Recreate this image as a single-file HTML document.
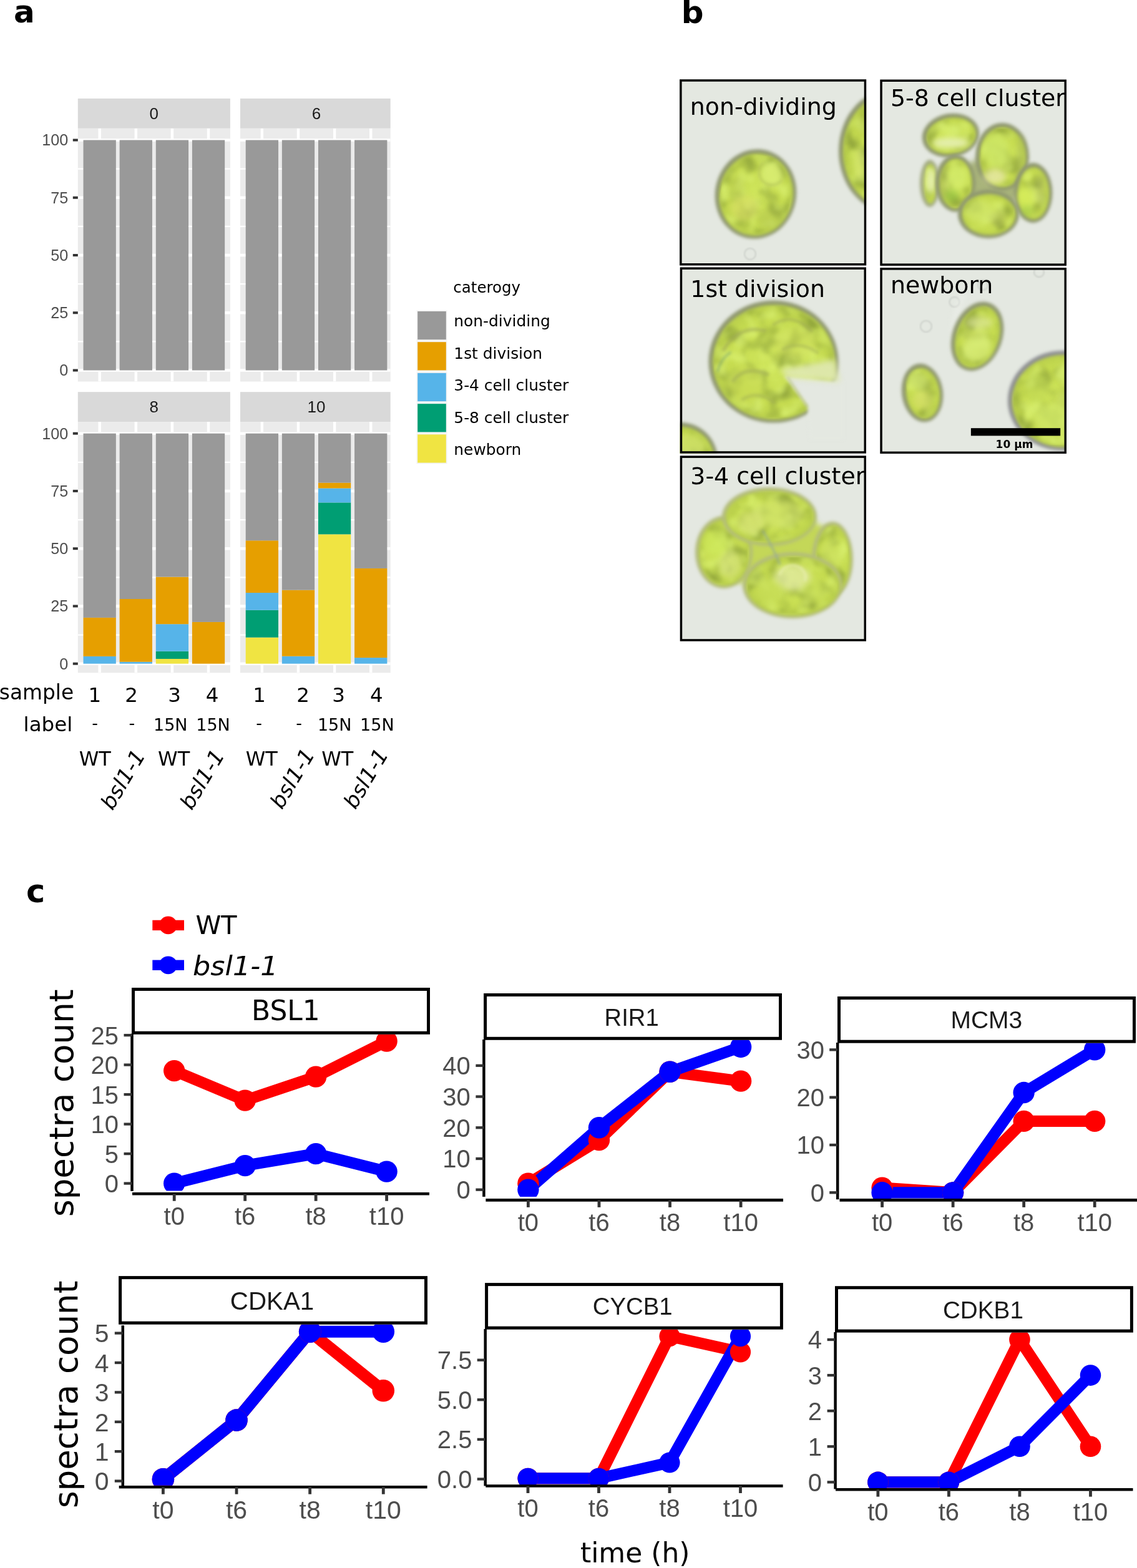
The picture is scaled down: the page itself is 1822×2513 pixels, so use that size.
<!DOCTYPE html><html><head><meta charset="utf-8"><style>html,body{margin:0;padding:0;background:#fff;width:1822px;height:2513px;overflow:hidden}svg{display:block}</style></head><body>
<svg xmlns="http://www.w3.org/2000/svg" width="1822" height="2513" viewBox="0 0 1822 2513">
<rect width="1822" height="2513" fill="#fff"/>
<text x="21.9" y="36.4" style="font-family:'DejaVu Sans',Verdana,sans-serif;font-weight:bold;font-size:50px" fill="#000">a</text>
<rect x="124.8" y="157.9" width="244.1" height="47.9" fill="#D9D9D9" />
<text x="246.85" y="190.8" style="font-family:'Liberation Sans',Arial,Helvetica,sans-serif;font-size:26px" fill="#1A1A1A" text-anchor="middle" >0</text>
<rect x="124.8" y="205.8" width="244.1" height="405.7" fill="#EBEBEB" />
<g clip-path="url(#clip0)">
<line x1="124.8" y1="547.38" x2="368.9" y2="547.38" stroke="#FFFFFF" stroke-width="2.4" />
<line x1="124.8" y1="455.12" x2="368.9" y2="455.12" stroke="#FFFFFF" stroke-width="2.4" />
<line x1="124.8" y1="362.88" x2="368.9" y2="362.88" stroke="#FFFFFF" stroke-width="2.4" />
<line x1="124.8" y1="270.62" x2="368.9" y2="270.62" stroke="#FFFFFF" stroke-width="2.4" />
<line x1="124.8" y1="593.5" x2="368.9" y2="593.5" stroke="#FFFFFF" stroke-width="4.4" />
<line x1="124.8" y1="501.25" x2="368.9" y2="501.25" stroke="#FFFFFF" stroke-width="4.4" />
<line x1="124.8" y1="409" x2="368.9" y2="409" stroke="#FFFFFF" stroke-width="4.4" />
<line x1="124.8" y1="316.75" x2="368.9" y2="316.75" stroke="#FFFFFF" stroke-width="4.4" />
<line x1="124.8" y1="224.5" x2="368.9" y2="224.5" stroke="#FFFFFF" stroke-width="4.4" />
<line x1="159.67" y1="205.8" x2="159.67" y2="611.5" stroke="#FFFFFF" stroke-width="4.4" />
<line x1="217.79" y1="205.8" x2="217.79" y2="611.5" stroke="#FFFFFF" stroke-width="4.4" />
<line x1="275.91" y1="205.8" x2="275.91" y2="611.5" stroke="#FFFFFF" stroke-width="4.4" />
<line x1="334.03" y1="205.8" x2="334.03" y2="611.5" stroke="#FFFFFF" stroke-width="4.4" />
<rect x="133.52" y="224.5" width="52.31" height="369" fill="#999999" />
<rect x="191.64" y="224.5" width="52.31" height="369" fill="#999999" />
<rect x="249.76" y="224.5" width="52.31" height="369" fill="#999999" />
<rect x="307.88" y="224.5" width="52.31" height="369" fill="#999999" />
</g>
<clipPath id="clip0"><rect x="124.8" y="205.8" width="244.1" height="405.7"/></clipPath>
<rect x="385" y="157.9" width="240.7" height="47.9" fill="#D9D9D9" />
<text x="507.05" y="190.8" style="font-family:'Liberation Sans',Arial,Helvetica,sans-serif;font-size:26px" fill="#1A1A1A" text-anchor="middle" >6</text>
<rect x="385" y="205.8" width="240.7" height="405.7" fill="#EBEBEB" />
<g clip-path="url(#clip6)">
<line x1="385" y1="547.38" x2="625.7" y2="547.38" stroke="#FFFFFF" stroke-width="2.4" />
<line x1="385" y1="455.12" x2="625.7" y2="455.12" stroke="#FFFFFF" stroke-width="2.4" />
<line x1="385" y1="362.88" x2="625.7" y2="362.88" stroke="#FFFFFF" stroke-width="2.4" />
<line x1="385" y1="270.62" x2="625.7" y2="270.62" stroke="#FFFFFF" stroke-width="2.4" />
<line x1="385" y1="593.5" x2="625.7" y2="593.5" stroke="#FFFFFF" stroke-width="4.4" />
<line x1="385" y1="501.25" x2="625.7" y2="501.25" stroke="#FFFFFF" stroke-width="4.4" />
<line x1="385" y1="409" x2="625.7" y2="409" stroke="#FFFFFF" stroke-width="4.4" />
<line x1="385" y1="316.75" x2="625.7" y2="316.75" stroke="#FFFFFF" stroke-width="4.4" />
<line x1="385" y1="224.5" x2="625.7" y2="224.5" stroke="#FFFFFF" stroke-width="4.4" />
<line x1="419.87" y1="205.8" x2="419.87" y2="611.5" stroke="#FFFFFF" stroke-width="4.4" />
<line x1="477.99" y1="205.8" x2="477.99" y2="611.5" stroke="#FFFFFF" stroke-width="4.4" />
<line x1="536.11" y1="205.8" x2="536.11" y2="611.5" stroke="#FFFFFF" stroke-width="4.4" />
<line x1="594.23" y1="205.8" x2="594.23" y2="611.5" stroke="#FFFFFF" stroke-width="4.4" />
<rect x="393.72" y="224.5" width="52.31" height="369" fill="#999999" />
<rect x="451.84" y="224.5" width="52.31" height="369" fill="#999999" />
<rect x="509.96" y="224.5" width="52.31" height="369" fill="#999999" />
<rect x="568.08" y="224.5" width="52.31" height="369" fill="#999999" />
</g>
<clipPath id="clip6"><rect x="385" y="205.8" width="240.7" height="405.7"/></clipPath>
<rect x="124.8" y="628.2" width="244.1" height="47.9" fill="#D9D9D9" />
<text x="246.85" y="661.1" style="font-family:'Liberation Sans',Arial,Helvetica,sans-serif;font-size:26px" fill="#1A1A1A" text-anchor="middle" >8</text>
<rect x="124.8" y="676.1" width="244.1" height="402.2" fill="#EBEBEB" />
<g clip-path="url(#clip8)">
<line x1="124.8" y1="1017.58" x2="368.9" y2="1017.58" stroke="#FFFFFF" stroke-width="2.4" />
<line x1="124.8" y1="925.33" x2="368.9" y2="925.33" stroke="#FFFFFF" stroke-width="2.4" />
<line x1="124.8" y1="833.08" x2="368.9" y2="833.08" stroke="#FFFFFF" stroke-width="2.4" />
<line x1="124.8" y1="740.83" x2="368.9" y2="740.83" stroke="#FFFFFF" stroke-width="2.4" />
<line x1="124.8" y1="1063.7" x2="368.9" y2="1063.7" stroke="#FFFFFF" stroke-width="4.4" />
<line x1="124.8" y1="971.45" x2="368.9" y2="971.45" stroke="#FFFFFF" stroke-width="4.4" />
<line x1="124.8" y1="879.2" x2="368.9" y2="879.2" stroke="#FFFFFF" stroke-width="4.4" />
<line x1="124.8" y1="786.95" x2="368.9" y2="786.95" stroke="#FFFFFF" stroke-width="4.4" />
<line x1="124.8" y1="694.7" x2="368.9" y2="694.7" stroke="#FFFFFF" stroke-width="4.4" />
<line x1="159.67" y1="676.1" x2="159.67" y2="1078.3" stroke="#FFFFFF" stroke-width="4.4" />
<line x1="217.79" y1="676.1" x2="217.79" y2="1078.3" stroke="#FFFFFF" stroke-width="4.4" />
<line x1="275.91" y1="676.1" x2="275.91" y2="1078.3" stroke="#FFFFFF" stroke-width="4.4" />
<line x1="334.03" y1="676.1" x2="334.03" y2="1078.3" stroke="#FFFFFF" stroke-width="4.4" />
<rect x="133.52" y="1051.89" width="52.31" height="11.81" fill="#56B4E9" />
<rect x="133.52" y="989.9" width="52.31" height="61.99" fill="#E69F00" />
<rect x="133.52" y="694.7" width="52.31" height="295.2" fill="#999999" />
<rect x="191.64" y="1060.75" width="52.31" height="2.95" fill="#56B4E9" />
<rect x="191.64" y="960.01" width="52.31" height="100.74" fill="#E69F00" />
<rect x="191.64" y="694.7" width="52.31" height="265.31" fill="#999999" />
<rect x="249.76" y="1055.95" width="52.31" height="7.75" fill="#F0E442" />
<rect x="249.76" y="1043.77" width="52.31" height="12.18" fill="#009E73" />
<rect x="249.76" y="1000.23" width="52.31" height="43.54" fill="#56B4E9" />
<rect x="249.76" y="924.59" width="52.31" height="75.65" fill="#E69F00" />
<rect x="249.76" y="694.7" width="52.31" height="229.89" fill="#999999" />
<rect x="307.88" y="996.91" width="52.31" height="66.79" fill="#E69F00" />
<rect x="307.88" y="694.7" width="52.31" height="302.21" fill="#999999" />
</g>
<clipPath id="clip8"><rect x="124.8" y="676.1" width="244.1" height="402.2"/></clipPath>
<rect x="385" y="628.2" width="240.7" height="47.9" fill="#D9D9D9" />
<text x="507.05" y="661.1" style="font-family:'Liberation Sans',Arial,Helvetica,sans-serif;font-size:26px" fill="#1A1A1A" text-anchor="middle" >10</text>
<rect x="385" y="676.1" width="240.7" height="402.2" fill="#EBEBEB" />
<g clip-path="url(#clip10)">
<line x1="385" y1="1017.58" x2="625.7" y2="1017.58" stroke="#FFFFFF" stroke-width="2.4" />
<line x1="385" y1="925.33" x2="625.7" y2="925.33" stroke="#FFFFFF" stroke-width="2.4" />
<line x1="385" y1="833.08" x2="625.7" y2="833.08" stroke="#FFFFFF" stroke-width="2.4" />
<line x1="385" y1="740.83" x2="625.7" y2="740.83" stroke="#FFFFFF" stroke-width="2.4" />
<line x1="385" y1="1063.7" x2="625.7" y2="1063.7" stroke="#FFFFFF" stroke-width="4.4" />
<line x1="385" y1="971.45" x2="625.7" y2="971.45" stroke="#FFFFFF" stroke-width="4.4" />
<line x1="385" y1="879.2" x2="625.7" y2="879.2" stroke="#FFFFFF" stroke-width="4.4" />
<line x1="385" y1="786.95" x2="625.7" y2="786.95" stroke="#FFFFFF" stroke-width="4.4" />
<line x1="385" y1="694.7" x2="625.7" y2="694.7" stroke="#FFFFFF" stroke-width="4.4" />
<line x1="419.87" y1="676.1" x2="419.87" y2="1078.3" stroke="#FFFFFF" stroke-width="4.4" />
<line x1="477.99" y1="676.1" x2="477.99" y2="1078.3" stroke="#FFFFFF" stroke-width="4.4" />
<line x1="536.11" y1="676.1" x2="536.11" y2="1078.3" stroke="#FFFFFF" stroke-width="4.4" />
<line x1="594.23" y1="676.1" x2="594.23" y2="1078.3" stroke="#FFFFFF" stroke-width="4.4" />
<rect x="393.72" y="1021.63" width="52.31" height="42.07" fill="#F0E442" />
<rect x="393.72" y="977.72" width="52.31" height="43.91" fill="#009E73" />
<rect x="393.72" y="950.05" width="52.31" height="27.68" fill="#56B4E9" />
<rect x="393.72" y="866.29" width="52.31" height="83.76" fill="#E69F00" />
<rect x="393.72" y="694.7" width="52.31" height="171.59" fill="#999999" />
<rect x="451.84" y="1051.71" width="52.31" height="11.99" fill="#56B4E9" />
<rect x="451.84" y="945.62" width="52.31" height="106.09" fill="#E69F00" />
<rect x="451.84" y="694.7" width="52.31" height="250.92" fill="#999999" />
<rect x="509.96" y="856.32" width="52.31" height="207.38" fill="#F0E442" />
<rect x="509.96" y="805.4" width="52.31" height="50.92" fill="#009E73" />
<rect x="509.96" y="782.52" width="52.31" height="22.88" fill="#56B4E9" />
<rect x="509.96" y="773.67" width="52.31" height="8.86" fill="#E69F00" />
<rect x="509.96" y="694.7" width="52.31" height="78.97" fill="#999999" />
<rect x="568.08" y="1054.11" width="52.31" height="9.59" fill="#56B4E9" />
<rect x="568.08" y="910.93" width="52.31" height="143.17" fill="#E69F00" />
<rect x="568.08" y="694.7" width="52.31" height="216.23" fill="#999999" />
</g>
<clipPath id="clip10"><rect x="385" y="676.1" width="240.7" height="402.2"/></clipPath>
<line x1="116.8" y1="593.5" x2="124.8" y2="593.5" stroke="#333333" stroke-width="4" />
<text x="109.2" y="602.4" style="font-family:'Liberation Sans',Arial,Helvetica,sans-serif;font-size:25.2px" fill="#4D4D4D" text-anchor="end" >0</text>
<line x1="116.8" y1="501.25" x2="124.8" y2="501.25" stroke="#333333" stroke-width="4" />
<text x="109.2" y="510.15" style="font-family:'Liberation Sans',Arial,Helvetica,sans-serif;font-size:25.2px" fill="#4D4D4D" text-anchor="end" >25</text>
<line x1="116.8" y1="409" x2="124.8" y2="409" stroke="#333333" stroke-width="4" />
<text x="109.2" y="417.9" style="font-family:'Liberation Sans',Arial,Helvetica,sans-serif;font-size:25.2px" fill="#4D4D4D" text-anchor="end" >50</text>
<line x1="116.8" y1="316.75" x2="124.8" y2="316.75" stroke="#333333" stroke-width="4" />
<text x="109.2" y="325.65" style="font-family:'Liberation Sans',Arial,Helvetica,sans-serif;font-size:25.2px" fill="#4D4D4D" text-anchor="end" >75</text>
<line x1="116.8" y1="224.5" x2="124.8" y2="224.5" stroke="#333333" stroke-width="4" />
<text x="109.2" y="233.4" style="font-family:'Liberation Sans',Arial,Helvetica,sans-serif;font-size:25.2px" fill="#4D4D4D" text-anchor="end" >100</text>
<line x1="116.8" y1="1063.7" x2="124.8" y2="1063.7" stroke="#333333" stroke-width="4" />
<text x="109.2" y="1072.6" style="font-family:'Liberation Sans',Arial,Helvetica,sans-serif;font-size:25.2px" fill="#4D4D4D" text-anchor="end" >0</text>
<line x1="116.8" y1="971.45" x2="124.8" y2="971.45" stroke="#333333" stroke-width="4" />
<text x="109.2" y="980.35" style="font-family:'Liberation Sans',Arial,Helvetica,sans-serif;font-size:25.2px" fill="#4D4D4D" text-anchor="end" >25</text>
<line x1="116.8" y1="879.2" x2="124.8" y2="879.2" stroke="#333333" stroke-width="4" />
<text x="109.2" y="888.1" style="font-family:'Liberation Sans',Arial,Helvetica,sans-serif;font-size:25.2px" fill="#4D4D4D" text-anchor="end" >50</text>
<line x1="116.8" y1="786.95" x2="124.8" y2="786.95" stroke="#333333" stroke-width="4" />
<text x="109.2" y="795.85" style="font-family:'Liberation Sans',Arial,Helvetica,sans-serif;font-size:25.2px" fill="#4D4D4D" text-anchor="end" >75</text>
<line x1="116.8" y1="694.7" x2="124.8" y2="694.7" stroke="#333333" stroke-width="4" />
<text x="109.2" y="703.6" style="font-family:'Liberation Sans',Arial,Helvetica,sans-serif;font-size:25.2px" fill="#4D4D4D" text-anchor="end" >100</text>
<text x="726.3" y="469.2" style="font-family:'DejaVu Sans',Verdana,sans-serif;font-size:24.5px" fill="#000" text-anchor="start" >caterogy</text>
<rect x="667.5" y="497.3" width="49" height="48.6" fill="#F2F2F2" />
<rect x="669.2" y="499" width="45.6" height="45.2" fill="#999999" />
<text x="727.3" y="523.4" style="font-family:'DejaVu Sans',Verdana,sans-serif;font-size:24.9px" fill="#000" text-anchor="start" >non-dividing</text>
<rect x="667.5" y="546.5" width="49" height="48.6" fill="#F2F2F2" />
<rect x="669.2" y="548.2" width="45.6" height="45.2" fill="#E69F00" />
<text x="727.3" y="574.85" style="font-family:'DejaVu Sans',Verdana,sans-serif;font-size:24.9px" fill="#000" text-anchor="start" >1st division</text>
<rect x="667.5" y="596.2" width="49" height="48.6" fill="#F2F2F2" />
<rect x="669.2" y="597.9" width="45.6" height="45.2" fill="#56B4E9" />
<text x="727.3" y="626.3" style="font-family:'DejaVu Sans',Verdana,sans-serif;font-size:24.9px" fill="#000" text-anchor="start" >3-4 cell cluster</text>
<rect x="667.5" y="645.5" width="49" height="48.6" fill="#F2F2F2" />
<rect x="669.2" y="647.2" width="45.6" height="45.2" fill="#009E73" />
<text x="727.3" y="677.75" style="font-family:'DejaVu Sans',Verdana,sans-serif;font-size:24.9px" fill="#000" text-anchor="start" >5-8 cell cluster</text>
<rect x="667.5" y="694.7" width="49" height="48.6" fill="#F2F2F2" />
<rect x="669.2" y="696.4" width="45.6" height="45.2" fill="#F0E442" />
<text x="727.3" y="729.2" style="font-family:'DejaVu Sans',Verdana,sans-serif;font-size:24.9px" fill="#000" text-anchor="start" >newborn</text>
<text x="118.1" y="1121.1" style="font-family:'DejaVu Sans',Verdana,sans-serif;font-size:32.8px" fill="#000" text-anchor="end" >sample</text>
<text x="116.23" y="1172" style="font-family:'DejaVu Sans',Verdana,sans-serif;font-size:32.5px" fill="#000" text-anchor="end" >label</text>
<text x="151.8" y="1124.9" style="font-family:'DejaVu Sans',Verdana,sans-serif;font-size:32.5px" fill="#000" text-anchor="middle" >1</text>
<text x="210.7" y="1124.9" style="font-family:'DejaVu Sans',Verdana,sans-serif;font-size:32.5px" fill="#000" text-anchor="middle" >2</text>
<text x="279.7" y="1124.9" style="font-family:'DejaVu Sans',Verdana,sans-serif;font-size:32.5px" fill="#000" text-anchor="middle" >3</text>
<text x="340.2" y="1124.9" style="font-family:'DejaVu Sans',Verdana,sans-serif;font-size:32.5px" fill="#000" text-anchor="middle" >4</text>
<text x="415.6" y="1124.9" style="font-family:'DejaVu Sans',Verdana,sans-serif;font-size:32.5px" fill="#000" text-anchor="middle" >1</text>
<text x="485.5" y="1124.9" style="font-family:'DejaVu Sans',Verdana,sans-serif;font-size:32.5px" fill="#000" text-anchor="middle" >2</text>
<text x="542.5" y="1124.9" style="font-family:'DejaVu Sans',Verdana,sans-serif;font-size:32.5px" fill="#000" text-anchor="middle" >3</text>
<text x="603.4" y="1124.9" style="font-family:'DejaVu Sans',Verdana,sans-serif;font-size:32.5px" fill="#000" text-anchor="middle" >4</text>
<text x="152" y="1167.5" style="font-family:'DejaVu Sans',Verdana,sans-serif;font-size:27px" fill="#000" text-anchor="middle" >-</text>
<text x="211.3" y="1167.5" style="font-family:'DejaVu Sans',Verdana,sans-serif;font-size:27px" fill="#000" text-anchor="middle" >-</text>
<text x="273.3" y="1171" style="font-family:'DejaVu Sans',Verdana,sans-serif;font-size:27px" fill="#000" text-anchor="middle" >15N</text>
<text x="341.5" y="1171" style="font-family:'DejaVu Sans',Verdana,sans-serif;font-size:27px" fill="#000" text-anchor="middle" >15N</text>
<text x="415.2" y="1167.5" style="font-family:'DejaVu Sans',Verdana,sans-serif;font-size:27px" fill="#000" text-anchor="middle" >-</text>
<text x="479.2" y="1167.5" style="font-family:'DejaVu Sans',Verdana,sans-serif;font-size:27px" fill="#000" text-anchor="middle" >-</text>
<text x="536.2" y="1171" style="font-family:'DejaVu Sans',Verdana,sans-serif;font-size:27px" fill="#000" text-anchor="middle" >15N</text>
<text x="604.4" y="1171" style="font-family:'DejaVu Sans',Verdana,sans-serif;font-size:27px" fill="#000" text-anchor="middle" >15N</text>
<text x="152.3" y="1227.2" style="font-family:'DejaVu Sans',Verdana,sans-serif;font-size:32px" fill="#000" text-anchor="middle" >WT</text>
<text x="278.7" y="1227.2" style="font-family:'DejaVu Sans',Verdana,sans-serif;font-size:32px" fill="#000" text-anchor="middle" >WT</text>
<text x="419.3" y="1227.2" style="font-family:'DejaVu Sans',Verdana,sans-serif;font-size:32px" fill="#000" text-anchor="middle" >WT</text>
<text x="540.8" y="1227.2" style="font-family:'DejaVu Sans',Verdana,sans-serif;font-size:32px" fill="#000" text-anchor="middle" >WT</text>
<text x="233.9" y="1210.6" style="font-family:'DejaVu Sans',Verdana,sans-serif;font-style:italic;font-size:34px" fill="#000" text-anchor="end" transform="rotate(-59 233.9 1210.6)">bsl1-1</text>
<text x="360.9" y="1210.4" style="font-family:'DejaVu Sans',Verdana,sans-serif;font-style:italic;font-size:34px" fill="#000" text-anchor="end" transform="rotate(-59 360.9 1210.4)">bsl1-1</text>
<text x="505.5" y="1209" style="font-family:'DejaVu Sans',Verdana,sans-serif;font-style:italic;font-size:34px" fill="#000" text-anchor="end" transform="rotate(-59 505.5 1209)">bsl1-1</text>
<text x="623.3" y="1209" style="font-family:'DejaVu Sans',Verdana,sans-serif;font-style:italic;font-size:34px" fill="#000" text-anchor="end" transform="rotate(-59 623.3 1209)">bsl1-1</text>
<text x="1091.7" y="37.3" style="font-family:'DejaVu Sans',Verdana,sans-serif;font-weight:bold;font-size:50px" fill="#000">b</text>
<defs><filter id="bl3" x="-20%" y="-20%" width="140%" height="140%" color-interpolation-filters="sRGB"><feGaussianBlur stdDeviation="2.6"/></filter><filter id="bl6" x="-50%" y="-50%" width="200%" height="200%" color-interpolation-filters="sRGB"><feGaussianBlur stdDeviation="7"/></filter><filter id="bl5" x="-50%" y="-50%" width="200%" height="200%" color-interpolation-filters="sRGB"><feGaussianBlur stdDeviation="5"/></filter><filter id="bl2" x="-30%" y="-30%" width="160%" height="160%" color-interpolation-filters="sRGB"><feGaussianBlur stdDeviation="2.2"/></filter><filter id="bl1" color-interpolation-filters="sRGB"><feGaussianBlur stdDeviation="1.2"/></filter><filter id="tex" x="0" y="0" width="100%" height="100%" color-interpolation-filters="sRGB"><feTurbulence type="fractalNoise" baseFrequency="0.032" numOctaves="2" seed="7" result="n"/><feColorMatrix in="n" type="matrix" values="0 0 0 0 0.52  0 0 0 0 0.60  0 0 0 0 0.22  3.2 0 0 0 -1.45" result="d"/><feComposite in="d" in2="SourceAlpha" operator="in" result="dd"/><feGaussianBlur in="dd" stdDeviation="2.8"/></filter><filter id="tex2" x="0" y="0" width="100%" height="100%" color-interpolation-filters="sRGB"><feTurbulence type="fractalNoise" baseFrequency="0.036" numOctaves="2" seed="21" result="n"/><feColorMatrix in="n" type="matrix" values="0 0 0 0 0.86  0 0 0 0 0.95  0 0 0 0 0.45  0 3.2 0 0 -1.5" result="d"/><feComposite in="d" in2="SourceAlpha" operator="in" result="dd"/><feGaussianBlur in="dd" stdDeviation="2.8"/></filter></defs>
<clipPath id="m1"><rect x="1089.1" y="127.2" width="299.1" height="298.3"/></clipPath>
<g clip-path="url(#m1)">
<rect x="1089.1" y="127.2" width="299.1" height="298.3" fill="#E4E8E1" />
<circle cx="1202" cy="407" r="9" fill="none" stroke="#D0D4CE" stroke-width="2.5" filter="url(#bl1)"/>
<radialGradient id="g1" cx="50%" cy="50%" r="50%"><stop offset="0" stop-color="#D0E65C"/><stop offset="0.75" stop-color="#C6DC50"/><stop offset="1" stop-color="#B9CF4C"/></radialGradient>
<g transform="rotate(11 1211 311)"><g filter="url(#bl3)"><ellipse cx="1211" cy="311" rx="65" ry="72" fill="#8F9770"/><ellipse cx="1211.8" cy="311.8" rx="59" ry="66" fill="url(#g1)"/></g></g>
<g transform="rotate(11 1211 311)"><ellipse cx="1211" cy="311" rx="56" ry="63" fill="#000" filter="url(#tex)" opacity="0.75"/><ellipse cx="1211" cy="311" rx="56" ry="63" fill="#000" filter="url(#tex2)" opacity="0.75"/></g>
<g filter="url(#bl5)">
<ellipse cx="1236" cy="280" rx="18" ry="18" fill="#D8EC70" opacity="0.95"/>
<ellipse cx="1193" cy="333" rx="22" ry="20" fill="#D9DD66" opacity="0.6"/>
<ellipse cx="1233" cy="351" rx="20" ry="16" fill="#A9B94E" opacity="0.35"/>
<ellipse cx="1181" cy="301" rx="12" ry="20" fill="#A9B94E" opacity="0.25"/>
</g>
<g filter="url(#bl2)" fill="none" stroke-linecap="round">
<path d="M1222,262 A20,20 0 1,0 1252,290" stroke="#AEBB58" stroke-width="4" opacity="0.5"/>
</g>
<radialGradient id="g2" cx="50%" cy="50%" r="50%"><stop offset="0" stop-color="#D0E65C"/><stop offset="0.75" stop-color="#C6DC50"/><stop offset="1" stop-color="#B9CF4C"/></radialGradient>
<g><g filter="url(#bl3)"><ellipse cx="1424" cy="242" rx="80" ry="97" fill="#8F9770"/><ellipse cx="1424.8" cy="242.8" rx="74" ry="91" fill="url(#g2)"/></g></g>
<g><ellipse cx="1424" cy="242" rx="71" ry="88" fill="#000" filter="url(#tex)" opacity="0.75"/><ellipse cx="1424" cy="242" rx="71" ry="88" fill="#000" filter="url(#tex2)" opacity="0.75"/></g>
<g filter="url(#bl5)">
<ellipse cx="1379" cy="262" rx="12" ry="25" fill="#DCEB7C" opacity="0.5"/>
<ellipse cx="1384" cy="202" rx="10" ry="15" fill="#A9B94E" opacity="0.3"/>
</g>
<text x="1105.69" y="184.1" style="font-family:'DejaVu Sans',Verdana,sans-serif;font-size:37.9px" fill="#000" text-anchor="start" >non-dividing</text>
</g>
<rect x="1090.85" y="128.95" width="295.6" height="294.8" fill="none" stroke="#000" stroke-width="3.5"/>
<clipPath id="m2"><rect x="1410.3" y="127.5" width="298.7" height="298.4"/></clipPath>
<g clip-path="url(#m2)">
<rect x="1410.3" y="127.5" width="298.7" height="298.4" fill="#E4E8E1" />
<g filter="url(#bl5)"><ellipse cx="1582" cy="298" rx="52" ry="44" fill="#9AA662" opacity="0.8"/></g>
<radialGradient id="g3" cx="50%" cy="50%" r="50%"><stop offset="0" stop-color="#D0E65C"/><stop offset="0.75" stop-color="#C6DC50"/><stop offset="1" stop-color="#B9CF4C"/></radialGradient>
<g><g filter="url(#bl3)"><ellipse cx="1490" cy="294" rx="16" ry="38" fill="#A4AC84"/><ellipse cx="1490.8" cy="294.8" rx="10" ry="32" fill="url(#g3)"/></g></g>
<g><ellipse cx="1490" cy="294" rx="7" ry="29" fill="#000" filter="url(#tex)" opacity="0.75"/><ellipse cx="1490" cy="294" rx="7" ry="29" fill="#000" filter="url(#tex2)" opacity="0.75"/></g>
<g filter="url(#bl5)">
<ellipse cx="1492" cy="289" rx="8" ry="20" fill="#E6EEB8" opacity="0.8"/>
</g>
<radialGradient id="g4" cx="50%" cy="50%" r="50%"><stop offset="0" stop-color="#D0E65C"/><stop offset="0.75" stop-color="#C6DC50"/><stop offset="1" stop-color="#B9CF4C"/></radialGradient>
<g transform="rotate(-10 1523.5 217)"><g filter="url(#bl3)"><ellipse cx="1523.5" cy="217" rx="46" ry="35" fill="#8F9770"/><ellipse cx="1524.3" cy="217.8" rx="40" ry="29" fill="url(#g4)"/></g></g>
<g transform="rotate(-10 1523.5 217)"><ellipse cx="1523.5" cy="217" rx="37" ry="26" fill="#000" filter="url(#tex)" opacity="0.75"/><ellipse cx="1523.5" cy="217" rx="37" ry="26" fill="#000" filter="url(#tex2)" opacity="0.75"/></g>
<g filter="url(#bl5)">
<ellipse cx="1523.5" cy="229" rx="30" ry="8" fill="#E6EEB4" opacity="0.9"/>
<ellipse cx="1528.5" cy="209" rx="12" ry="10" fill="#D8F070" opacity="0.9"/>
</g>
<radialGradient id="g5" cx="50%" cy="50%" r="50%"><stop offset="0" stop-color="#D0E65C"/><stop offset="0.75" stop-color="#C6DC50"/><stop offset="1" stop-color="#B9CF4C"/></radialGradient>
<g><g filter="url(#bl3)"><ellipse cx="1606" cy="251" rx="43" ry="54" fill="#8F9770"/><ellipse cx="1606.8" cy="251.8" rx="37" ry="48" fill="url(#g5)"/></g></g>
<g><ellipse cx="1606" cy="251" rx="34" ry="45" fill="#000" filter="url(#tex)" opacity="0.75"/><ellipse cx="1606" cy="251" rx="34" ry="45" fill="#000" filter="url(#tex2)" opacity="0.75"/></g>
<g filter="url(#bl5)">
<ellipse cx="1596" cy="241" rx="20" ry="28" fill="#CFE86A" opacity="0.7"/>
<ellipse cx="1594" cy="283" rx="18" ry="12" fill="#E8E8A8" opacity="0.8"/>
<ellipse cx="1636" cy="251" rx="6" ry="35" fill="#A8B85A" opacity="0.5"/>
</g>
<radialGradient id="g6" cx="50%" cy="50%" r="50%"><stop offset="0" stop-color="#D0E65C"/><stop offset="0.75" stop-color="#C6DC50"/><stop offset="1" stop-color="#B9CF4C"/></radialGradient>
<g><g filter="url(#bl3)"><ellipse cx="1531" cy="293.5" rx="32" ry="46" fill="#8F9770"/><ellipse cx="1531.8" cy="294.3" rx="26" ry="40" fill="url(#g6)"/></g></g>
<g><ellipse cx="1531" cy="293.5" rx="23" ry="37" fill="#000" filter="url(#tex)" opacity="0.75"/><ellipse cx="1531" cy="293.5" rx="23" ry="37" fill="#000" filter="url(#tex2)" opacity="0.75"/></g>
<g filter="url(#bl5)">
<ellipse cx="1534" cy="283.5" rx="16" ry="20" fill="#D4EC6A" opacity="0.8"/>
<ellipse cx="1525" cy="313.5" rx="12" ry="10" fill="#8CC040" opacity="0.55"/>
<ellipse cx="1511" cy="293.5" rx="5" ry="30" fill="#9EAA5C" opacity="0.5"/>
</g>
<radialGradient id="g7" cx="50%" cy="50%" r="50%"><stop offset="0" stop-color="#D0E65C"/><stop offset="0.75" stop-color="#C6DC50"/><stop offset="1" stop-color="#B9CF4C"/></radialGradient>
<g><g filter="url(#bl3)"><ellipse cx="1655.5" cy="309" rx="31" ry="48" fill="#8F9770"/><ellipse cx="1656.3" cy="309.8" rx="25" ry="42" fill="url(#g7)"/></g></g>
<g><ellipse cx="1655.5" cy="309" rx="22" ry="39" fill="#000" filter="url(#tex)" opacity="0.75"/><ellipse cx="1655.5" cy="309" rx="22" ry="39" fill="#000" filter="url(#tex2)" opacity="0.75"/></g>
<g filter="url(#bl5)">
<ellipse cx="1643.5" cy="317" rx="12" ry="18" fill="#D8EE5A" opacity="0.85"/>
<ellipse cx="1645.5" cy="337" rx="10" ry="10" fill="#9CC848" opacity="0.5"/>
<ellipse cx="1667.5" cy="304" rx="8" ry="25" fill="#A4B060" opacity="0.45"/>
</g>
<radialGradient id="g8" cx="50%" cy="50%" r="50%"><stop offset="0" stop-color="#D0E65C"/><stop offset="0.75" stop-color="#C6DC50"/><stop offset="1" stop-color="#B9CF4C"/></radialGradient>
<g><g filter="url(#bl3)"><ellipse cx="1584" cy="343" rx="49" ry="39" fill="#8F9770"/><ellipse cx="1584.8" cy="343.8" rx="43" ry="33" fill="url(#g8)"/></g></g>
<g><ellipse cx="1584" cy="343" rx="40" ry="30" fill="#000" filter="url(#tex)" opacity="0.75"/><ellipse cx="1584" cy="343" rx="40" ry="30" fill="#000" filter="url(#tex2)" opacity="0.75"/></g>
<g filter="url(#bl5)">
<ellipse cx="1569" cy="338" rx="22" ry="18" fill="#D0E66A" opacity="0.7"/>
<ellipse cx="1599" cy="351" rx="14" ry="12" fill="#A9B658" opacity="0.4"/>
</g>
<text x="1426.89" y="170" style="font-family:'DejaVu Sans',Verdana,sans-serif;font-size:37.9px" fill="#000" text-anchor="start" >5-8 cell cluster</text>
</g>
<rect x="1412.05" y="129.25" width="295.2" height="294.9" fill="none" stroke="#000" stroke-width="3.5"/>
<clipPath id="m3"><rect x="1089.7" y="428.4" width="298.3" height="298.3"/></clipPath>
<g clip-path="url(#m3)">
<rect x="1089.7" y="428.4" width="298.3" height="298.3" fill="#E4E8E1" />
<radialGradient id="g9" cx="50%" cy="50%" r="50%"><stop offset="0" stop-color="#D0E65C"/><stop offset="0.75" stop-color="#C6DC50"/><stop offset="1" stop-color="#B9CF4C"/></radialGradient>
<g><g filter="url(#bl3)"><ellipse cx="1090" cy="737" rx="60" ry="60" fill="#8F9770"/><ellipse cx="1090.8" cy="737.8" rx="54" ry="54" fill="url(#g9)"/></g></g>
<g><ellipse cx="1090" cy="737" rx="51" ry="51" fill="#000" filter="url(#tex)" opacity="0.75"/><ellipse cx="1090" cy="737" rx="51" ry="51" fill="#000" filter="url(#tex2)" opacity="0.75"/></g>
<g filter="url(#bl5)">
<ellipse cx="1105" cy="717" rx="25" ry="20" fill="#CDDD6E" opacity="0.6"/>
</g>
<radialGradient id="g10" cx="50%" cy="50%" r="50%"><stop offset="0" stop-color="#D0E65C"/><stop offset="0.75" stop-color="#C6DC50"/><stop offset="1" stop-color="#B9CF4C"/></radialGradient>
<g><g filter="url(#bl3)"><ellipse cx="1239.5" cy="579.6" rx="104" ry="98" fill="#8F9770"/><ellipse cx="1240.3" cy="580.4" rx="98" ry="92" fill="url(#g10)"/></g></g>
<g><ellipse cx="1239.5" cy="579.6" rx="95" ry="89" fill="#000" filter="url(#tex)" opacity="0.75"/><ellipse cx="1239.5" cy="579.6" rx="95" ry="89" fill="#000" filter="url(#tex2)" opacity="0.75"/></g>
<g filter="url(#bl5)">
<ellipse cx="1194.5" cy="614.6" rx="28" ry="30" fill="#C9DC55" opacity="0.6"/>
<ellipse cx="1274.5" cy="549.6" rx="35" ry="25" fill="#CFE05E" opacity="0.5"/>
</g>
<g filter="url(#bl2)" fill="none" stroke-linecap="round">
<path d="M1160,560 Q1185,520 1225,530" stroke="#9EAA55" stroke-width="6" opacity="0.55"/>
<path d="M1175,610 Q1195,585 1230,600" stroke="#9EAA55" stroke-width="6" opacity="0.5"/>
<path d="M1240,520 Q1270,500 1300,530" stroke="#9EAA55" stroke-width="5" opacity="0.5"/>
<path d="M1255,560 Q1280,545 1310,565" stroke="#9EAA55" stroke-width="5" opacity="0.45"/>
<path d="M1190,640 Q1215,625 1240,645" stroke="#9EAA55" stroke-width="5" opacity="0.45"/>
<path d="M1150,595 Q1155,575 1170,565" stroke="#5F8F70" stroke-width="4" opacity="0.4"/>
</g>
<g filter="url(#bl3)"><polygon points="1257,602 1352,612 1352,705 1298,705 1294,652" fill="#E4E8E1"/></g>
<g filter="url(#bl5)"><polygon points="1250,592 1338,576 1346,612 1262,606" fill="#DEE8AE" opacity="0.95"/></g>
<g filter="url(#bl2)"><path d="M1262,604 L1294,652" stroke="#B9C08A" stroke-width="4" opacity="0.6"/></g>
<text x="1106.29" y="475.9" style="font-family:'DejaVu Sans',Verdana,sans-serif;font-size:37.9px" fill="#000" text-anchor="start" >1st division</text>
</g>
<rect x="1091.45" y="430.15" width="294.8" height="294.8" fill="none" stroke="#000" stroke-width="3.5"/>
<clipPath id="m4"><rect x="1410.3" y="429.1" width="298.7" height="298"/></clipPath>
<g clip-path="url(#m4)">
<rect x="1410.3" y="429.1" width="298.7" height="298" fill="#E4E8E1" />
<circle cx="1484" cy="523" r="9" fill="none" stroke="#D0D4CE" stroke-width="2.5" filter="url(#bl1)"/>
<circle cx="1529.5" cy="484" r="8" fill="none" stroke="#D0D4CE" stroke-width="2.5" filter="url(#bl1)"/>
<circle cx="1575" cy="457" r="8" fill="none" stroke="#D0D4CE" stroke-width="2.5" filter="url(#bl1)"/>
<circle cx="1665" cy="436" r="8" fill="none" stroke="#D0D4CE" stroke-width="2.5" filter="url(#bl1)"/>
<g filter="url(#bl5)"><path d="M1545,470 Q1520,520 1530,575" stroke="#F0F2EC" stroke-width="6" fill="none" opacity="0.7"/></g>
<radialGradient id="g11" cx="50%" cy="50%" r="50%"><stop offset="0" stop-color="#D0E65C"/><stop offset="0.75" stop-color="#C6DC50"/><stop offset="1" stop-color="#B9CF4C"/></radialGradient>
<g transform="rotate(20 1566 539)"><g filter="url(#bl3)"><ellipse cx="1566" cy="539" rx="40" ry="57" fill="#8F9770"/><ellipse cx="1566.8" cy="539.8" rx="34" ry="51" fill="url(#g11)"/></g></g>
<g transform="rotate(20 1566 539)"><ellipse cx="1566" cy="539" rx="31" ry="48" fill="#000" filter="url(#tex)" opacity="0.75"/><ellipse cx="1566" cy="539" rx="31" ry="48" fill="#000" filter="url(#tex2)" opacity="0.75"/></g>
<g filter="url(#bl5)">
<ellipse cx="1566" cy="557" rx="22" ry="22" fill="#D6EA74" opacity="0.8"/>
<ellipse cx="1569" cy="517" rx="22" ry="10" fill="#E0E8A0" opacity="0.6"/>
<ellipse cx="1561" cy="537" rx="20" ry="6" fill="#A9B94E" opacity="0.4"/>
</g>
<radialGradient id="g12" cx="50%" cy="50%" r="50%"><stop offset="0" stop-color="#D0E65C"/><stop offset="0.75" stop-color="#C6DC50"/><stop offset="1" stop-color="#B9CF4C"/></radialGradient>
<g transform="rotate(-8 1478 629.6)"><g filter="url(#bl3)"><ellipse cx="1478" cy="629.6" rx="33" ry="47" fill="#8F9770"/><ellipse cx="1478.8" cy="630.4" rx="27" ry="41" fill="url(#g12)"/></g></g>
<g transform="rotate(-8 1478 629.6)"><ellipse cx="1478" cy="629.6" rx="24" ry="38" fill="#000" filter="url(#tex)" opacity="0.75"/><ellipse cx="1478" cy="629.6" rx="24" ry="38" fill="#000" filter="url(#tex2)" opacity="0.75"/></g>
<g filter="url(#bl5)">
<ellipse cx="1472" cy="611.6" rx="15" ry="14" fill="#D4EA72" opacity="0.7"/>
<ellipse cx="1478" cy="641.6" rx="16" ry="14" fill="#D6DC6A" opacity="0.6"/>
<ellipse cx="1488" cy="634.6" rx="6" ry="30" fill="#A9B94E" opacity="0.3"/>
</g>
<radialGradient id="g13" cx="50%" cy="50%" r="50%"><stop offset="0" stop-color="#D0E65C"/><stop offset="0.75" stop-color="#C6DC50"/><stop offset="1" stop-color="#B9CF4C"/></radialGradient>
<g><g filter="url(#bl3)"><ellipse cx="1703" cy="642" rx="88" ry="80" fill="#8E8F92"/><ellipse cx="1703.8" cy="642.8" rx="82" ry="74" fill="url(#g13)"/></g></g>
<g><ellipse cx="1703" cy="642" rx="79" ry="71" fill="#000" filter="url(#tex)" opacity="0.75"/><ellipse cx="1703" cy="642" rx="79" ry="71" fill="#000" filter="url(#tex2)" opacity="0.75"/></g>
<g filter="url(#bl5)">
<ellipse cx="1688" cy="672" rx="30" ry="25" fill="#D2E86A" opacity="0.7"/>
<ellipse cx="1663" cy="622" rx="20" ry="25" fill="#C2DA56" opacity="0.5"/>
<ellipse cx="1713" cy="637" rx="20" ry="20" fill="#A9B94E" opacity="0.35"/>
</g>
<text x="1426.89" y="470.3" style="font-family:'DejaVu Sans',Verdana,sans-serif;font-size:37.9px" fill="#000" text-anchor="start" >newborn</text>
</g>
<rect x="1412.05" y="430.85" width="295.2" height="294.5" fill="none" stroke="#000" stroke-width="3.5"/>
<clipPath id="m5"><rect x="1089.7" y="730.4" width="298.3" height="297.3"/></clipPath>
<g clip-path="url(#m5)">
<rect x="1089.7" y="730.4" width="298.3" height="297.3" fill="#E4E8E1" />
<g filter="url(#bl5)"><path d="M1140,880 Q1150,820 1205,805 Q1275,795 1310,840 Q1345,850 1342,900 Q1335,965 1270,970 Q1205,972 1200,935 Q1145,935 1140,880 Z" fill="#C4D758" opacity="1"/></g>
<radialGradient id="g14" cx="50%" cy="50%" r="50%"><stop offset="0" stop-color="#D0E65C"/><stop offset="0.75" stop-color="#C6DC50"/><stop offset="1" stop-color="#B9CF4C"/></radialGradient>
<g><g filter="url(#bl3)"><ellipse cx="1160" cy="885" rx="46" ry="58" fill="#B3BC7C"/><ellipse cx="1160.8" cy="885.8" rx="41" ry="53" fill="url(#g14)"/></g></g>
<g><ellipse cx="1160" cy="885" rx="38" ry="50" fill="#000" filter="url(#tex)" opacity="0.75"/><ellipse cx="1160" cy="885" rx="38" ry="50" fill="#000" filter="url(#tex2)" opacity="0.75"/></g>
<g filter="url(#bl5)">
<ellipse cx="1148" cy="870" rx="20" ry="20" fill="#CDE85A" opacity="0.7"/>
<ellipse cx="1170" cy="905" rx="18" ry="22" fill="#D8E28A" opacity="0.5"/>
</g>
<radialGradient id="g15" cx="50%" cy="50%" r="50%"><stop offset="0" stop-color="#D0E65C"/><stop offset="0.75" stop-color="#C6DC50"/><stop offset="1" stop-color="#B9CF4C"/></radialGradient>
<g><g filter="url(#bl3)"><ellipse cx="1334" cy="896" rx="33" ry="60" fill="#B3BC7C"/><ellipse cx="1334.8" cy="896.8" rx="28" ry="55" fill="url(#g15)"/></g></g>
<g><ellipse cx="1334" cy="896" rx="25" ry="52" fill="#000" filter="url(#tex)" opacity="0.75"/><ellipse cx="1334" cy="896" rx="25" ry="52" fill="#000" filter="url(#tex2)" opacity="0.75"/></g>
<g filter="url(#bl5)">
<ellipse cx="1329" cy="896" rx="15" ry="30" fill="#CCE060" opacity="0.6"/>
</g>
<radialGradient id="g16" cx="50%" cy="50%" r="50%"><stop offset="0" stop-color="#D0E65C"/><stop offset="0.75" stop-color="#C6DC50"/><stop offset="1" stop-color="#B9CF4C"/></radialGradient>
<g><g filter="url(#bl3)"><ellipse cx="1233" cy="828" rx="76" ry="47" fill="#B3BC7C"/><ellipse cx="1233.8" cy="828.8" rx="71" ry="42" fill="url(#g16)"/></g></g>
<g><ellipse cx="1233" cy="828" rx="68" ry="39" fill="#000" filter="url(#tex)" opacity="0.75"/><ellipse cx="1233" cy="828" rx="68" ry="39" fill="#000" filter="url(#tex2)" opacity="0.75"/></g>
<g filter="url(#bl5)">
<ellipse cx="1248" cy="823" rx="40" ry="22" fill="#D2E36C" opacity="0.6"/>
<ellipse cx="1203" cy="838" rx="20" ry="18" fill="#D6DE7E" opacity="0.5"/>
</g>
<radialGradient id="g17" cx="50%" cy="50%" r="50%"><stop offset="0" stop-color="#D0E65C"/><stop offset="0.75" stop-color="#C6DC50"/><stop offset="1" stop-color="#B9CF4C"/></radialGradient>
<g><g filter="url(#bl3)"><ellipse cx="1270" cy="938" rx="80" ry="53" fill="#B3BC7C"/><ellipse cx="1270.8" cy="938.8" rx="75" ry="48" fill="url(#g17)"/></g></g>
<g><ellipse cx="1270" cy="938" rx="72" ry="45" fill="#000" filter="url(#tex)" opacity="0.75"/><ellipse cx="1270" cy="938" rx="72" ry="45" fill="#000" filter="url(#tex2)" opacity="0.75"/></g>
<g filter="url(#bl5)">
<ellipse cx="1270" cy="926" rx="30" ry="20" fill="#E2EAA8" opacity="0.7"/>
<ellipse cx="1235" cy="948" rx="22" ry="20" fill="#C6DC58" opacity="0.5"/>
<ellipse cx="1305" cy="948" rx="20" ry="20" fill="#C6DC58" opacity="0.5"/>
</g>
<g filter="url(#bl2)" fill="none" stroke-linecap="round">
<path d="M1250,920 A20,18 0 1,1 1290,930" stroke="#E8EEB0" stroke-width="4" opacity="0.7"/>
</g>
<g filter="url(#bl2)"><path d="M1222,850 Q1240,880 1250,905" stroke="#8FA59A" stroke-width="3.5" fill="none" opacity="0.6"/></g>
<text x="1106.29" y="775.6" style="font-family:'DejaVu Sans',Verdana,sans-serif;font-size:37.9px" fill="#000" text-anchor="start" >3-4 cell cluster</text>
</g>
<rect x="1091.45" y="732.15" width="294.8" height="293.8" fill="none" stroke="#000" stroke-width="3.5"/>
<rect x="1555.9" y="686.2" width="143.3" height="12.2" fill="#000" />
<text x="1625.5" y="718" style="font-family:'DejaVu Sans',Verdana,sans-serif;font-weight:bold;font-size:17px" fill="#000" text-anchor="middle">10 µm</text>
<text x="42.1" y="1445.8" style="font-family:'DejaVu Sans',Verdana,sans-serif;font-weight:bold;font-size:51px" fill="#000">c</text>
<rect x="244.3" y="1474.7" width="50.7" height="16.4" fill="#FF0000" />
<circle cx="269.5" cy="1482.9" r="14.4" fill="#FF0000"/>
<rect x="244.3" y="1538.6" width="50.7" height="16.4" fill="#0000FF" />
<circle cx="269.5" cy="1546.8" r="14.4" fill="#0000FF"/>
<text x="313.4" y="1497.2" style="font-family:'DejaVu Sans',Verdana,sans-serif;font-size:41.4px" fill="#000" text-anchor="start" >WT</text>
<text x="309.1" y="1563.4" style="font-family:'DejaVu Sans',Verdana,sans-serif;font-style:italic;font-size:43px" fill="#000" textLength="136.5" lengthAdjust="spacingAndGlyphs">bsl1-1</text>
<text x="116.7" y="1767.7" style="font-family:'DejaVu Sans',Verdana,sans-serif;font-size:53px" fill="#000" text-anchor="middle" transform="rotate(-90 116.7 1767.7)">spectra count</text>
<text x="124.4" y="2234.8" style="font-family:'DejaVu Sans',Verdana,sans-serif;font-size:53px" fill="#000" text-anchor="middle" transform="rotate(-90 124.4 2234.8)">spectra count</text>
<text x="1017.7" y="2504.2" style="font-family:'DejaVu Sans',Verdana,sans-serif;font-size:44px" fill="#000" text-anchor="middle" >time (h)</text>
<clipPath id="cBSL1"><rect x="213.8" y="1657.8" width="475.2" height="250.8"/></clipPath>
<g clip-path="url(#cBSL1)">
<polyline points="279.2,1716.1 392.67,1763.6 506.14,1725.6 619.61,1668.6" fill="none" stroke="#FF0000" stroke-width="18.2" stroke-linejoin="round"/>
<polyline points="279.2,1896.6 392.67,1868.1 506.14,1849.1 619.61,1877.6" fill="none" stroke="#0000FF" stroke-width="18.2" stroke-linejoin="round"/>
<circle cx="279.2" cy="1716.1" r="17.2" fill="#FF0000"/>
<circle cx="392.67" cy="1763.6" r="17.2" fill="#FF0000"/>
<circle cx="506.14" cy="1725.6" r="17.2" fill="#FF0000"/>
<circle cx="619.61" cy="1668.6" r="17.2" fill="#FF0000"/>
<circle cx="279.2" cy="1896.6" r="17.2" fill="#0000FF"/>
<circle cx="392.67" cy="1868.1" r="17.2" fill="#0000FF"/>
<circle cx="506.14" cy="1849.1" r="17.2" fill="#0000FF"/>
<circle cx="619.61" cy="1877.6" r="17.2" fill="#0000FF"/>
</g>
<rect x="213.5" y="1585.5" width="473" height="69.8" fill="#fff" stroke="#000" stroke-width="5"/>
<text x="457.9" y="1635" style="font-family:'DejaVu Sans',Verdana,sans-serif;font-size:44px" fill="#000" text-anchor="middle" >BSL1</text>
<line x1="211.5" y1="1656.8" x2="211.5" y2="1909" stroke="#000" stroke-width="4.5" />
<line x1="212" y1="1913.3" x2="688" y2="1913.3" stroke="#000" stroke-width="4.6" />
<line x1="198.5" y1="1896.6" x2="211.5" y2="1896.6" stroke="#333333" stroke-width="4.3" />
<text x="189.9" y="1911" style="font-family:'Liberation Sans',Arial,Helvetica,sans-serif;font-size:40px" fill="#4D4D4D" text-anchor="end" >0</text>
<line x1="198.5" y1="1849.1" x2="211.5" y2="1849.1" stroke="#333333" stroke-width="4.3" />
<text x="189.9" y="1863.5" style="font-family:'Liberation Sans',Arial,Helvetica,sans-serif;font-size:40px" fill="#4D4D4D" text-anchor="end" >5</text>
<line x1="198.5" y1="1801.6" x2="211.5" y2="1801.6" stroke="#333333" stroke-width="4.3" />
<text x="189.9" y="1816" style="font-family:'Liberation Sans',Arial,Helvetica,sans-serif;font-size:40px" fill="#4D4D4D" text-anchor="end" >10</text>
<line x1="198.5" y1="1754.1" x2="211.5" y2="1754.1" stroke="#333333" stroke-width="4.3" />
<text x="189.9" y="1768.5" style="font-family:'Liberation Sans',Arial,Helvetica,sans-serif;font-size:40px" fill="#4D4D4D" text-anchor="end" >15</text>
<line x1="198.5" y1="1706.6" x2="211.5" y2="1706.6" stroke="#333333" stroke-width="4.3" />
<text x="189.9" y="1721" style="font-family:'Liberation Sans',Arial,Helvetica,sans-serif;font-size:40px" fill="#4D4D4D" text-anchor="end" >20</text>
<line x1="198.5" y1="1659.1" x2="211.5" y2="1659.1" stroke="#333333" stroke-width="4.3" />
<text x="189.9" y="1673.5" style="font-family:'Liberation Sans',Arial,Helvetica,sans-serif;font-size:40px" fill="#4D4D4D" text-anchor="end" >25</text>
<line x1="279.2" y1="1913.3" x2="279.2" y2="1924.8" stroke="#333333" stroke-width="4.8" />
<text x="279.2" y="1962.8" style="font-family:'Liberation Sans',Arial,Helvetica,sans-serif;font-size:40px" fill="#4D4D4D" text-anchor="middle" >t0</text>
<line x1="392.67" y1="1913.3" x2="392.67" y2="1924.8" stroke="#333333" stroke-width="4.8" />
<text x="392.67" y="1962.8" style="font-family:'Liberation Sans',Arial,Helvetica,sans-serif;font-size:40px" fill="#4D4D4D" text-anchor="middle" >t6</text>
<line x1="506.14" y1="1913.3" x2="506.14" y2="1924.8" stroke="#333333" stroke-width="4.8" />
<text x="506.14" y="1962.8" style="font-family:'Liberation Sans',Arial,Helvetica,sans-serif;font-size:40px" fill="#4D4D4D" text-anchor="middle" >t8</text>
<line x1="619.61" y1="1913.3" x2="619.61" y2="1924.8" stroke="#333333" stroke-width="4.8" />
<text x="619.61" y="1962.8" style="font-family:'Liberation Sans',Arial,Helvetica,sans-serif;font-size:40px" fill="#4D4D4D" text-anchor="middle" >t10</text>
<clipPath id="cRIR1"><rect x="777.6" y="1666.8" width="475.4" height="251.1"/></clipPath>
<g clip-path="url(#cRIR1)">
<polyline points="846.4,1896.76 959.97,1827.14 1073.54,1717.75 1187.11,1732.66" fill="none" stroke="#FF0000" stroke-width="18.2" stroke-linejoin="round"/>
<polyline points="846.4,1906.7 959.97,1807.25 1073.54,1717.75 1187.11,1677.97" fill="none" stroke="#0000FF" stroke-width="18.2" stroke-linejoin="round"/>
<circle cx="846.4" cy="1896.76" r="17.2" fill="#FF0000"/>
<circle cx="959.97" cy="1827.14" r="17.2" fill="#FF0000"/>
<circle cx="1073.54" cy="1717.75" r="17.2" fill="#FF0000"/>
<circle cx="1187.11" cy="1732.66" r="17.2" fill="#FF0000"/>
<circle cx="846.4" cy="1906.7" r="17.2" fill="#0000FF"/>
<circle cx="959.97" cy="1807.25" r="17.2" fill="#0000FF"/>
<circle cx="1073.54" cy="1717.75" r="17.2" fill="#0000FF"/>
<circle cx="1187.11" cy="1677.97" r="17.2" fill="#0000FF"/>
</g>
<rect x="777.6" y="1594.5" width="472.9" height="69.8" fill="#fff" stroke="#000" stroke-width="5"/>
<text x="1012.2" y="1644.1" style="font-family:'Liberation Sans',Arial,Helvetica,sans-serif;font-size:38.3px" fill="#1A1A1A" text-anchor="middle" >RIR1</text>
<line x1="775.4" y1="1666.1" x2="775.4" y2="1917.9" stroke="#000" stroke-width="4.5" />
<line x1="778.4" y1="1923.4" x2="1255" y2="1923.4" stroke="#000" stroke-width="4.6" />
<line x1="762.4" y1="1906.7" x2="775.4" y2="1906.7" stroke="#333333" stroke-width="4.3" />
<text x="753.8" y="1921.1" style="font-family:'Liberation Sans',Arial,Helvetica,sans-serif;font-size:40px" fill="#4D4D4D" text-anchor="end" >0</text>
<line x1="762.4" y1="1856.98" x2="775.4" y2="1856.98" stroke="#333333" stroke-width="4.3" />
<text x="753.8" y="1871.38" style="font-family:'Liberation Sans',Arial,Helvetica,sans-serif;font-size:40px" fill="#4D4D4D" text-anchor="end" >10</text>
<line x1="762.4" y1="1807.25" x2="775.4" y2="1807.25" stroke="#333333" stroke-width="4.3" />
<text x="753.8" y="1821.65" style="font-family:'Liberation Sans',Arial,Helvetica,sans-serif;font-size:40px" fill="#4D4D4D" text-anchor="end" >20</text>
<line x1="762.4" y1="1757.53" x2="775.4" y2="1757.53" stroke="#333333" stroke-width="4.3" />
<text x="753.8" y="1771.93" style="font-family:'Liberation Sans',Arial,Helvetica,sans-serif;font-size:40px" fill="#4D4D4D" text-anchor="end" >30</text>
<line x1="762.4" y1="1707.8" x2="775.4" y2="1707.8" stroke="#333333" stroke-width="4.3" />
<text x="753.8" y="1722.2" style="font-family:'Liberation Sans',Arial,Helvetica,sans-serif;font-size:40px" fill="#4D4D4D" text-anchor="end" >40</text>
<line x1="846.4" y1="1923.4" x2="846.4" y2="1934.9" stroke="#333333" stroke-width="4.8" />
<text x="846.4" y="1972.7" style="font-family:'Liberation Sans',Arial,Helvetica,sans-serif;font-size:40px" fill="#4D4D4D" text-anchor="middle" >t0</text>
<line x1="959.97" y1="1923.4" x2="959.97" y2="1934.9" stroke="#333333" stroke-width="4.8" />
<text x="959.97" y="1972.7" style="font-family:'Liberation Sans',Arial,Helvetica,sans-serif;font-size:40px" fill="#4D4D4D" text-anchor="middle" >t6</text>
<line x1="1073.54" y1="1923.4" x2="1073.54" y2="1934.9" stroke="#333333" stroke-width="4.8" />
<text x="1073.54" y="1972.7" style="font-family:'Liberation Sans',Arial,Helvetica,sans-serif;font-size:40px" fill="#4D4D4D" text-anchor="middle" >t8</text>
<line x1="1187.11" y1="1923.4" x2="1187.11" y2="1934.9" stroke="#333333" stroke-width="4.8" />
<text x="1187.11" y="1972.7" style="font-family:'Liberation Sans',Arial,Helvetica,sans-serif;font-size:40px" fill="#4D4D4D" text-anchor="middle" >t10</text>
<clipPath id="cMCM3"><rect x="1344.3" y="1671.7" width="475.7" height="250.6"/></clipPath>
<g clip-path="url(#cMCM3)">
<polyline points="1413.6,1903.67 1527.13,1911.3 1640.66,1796.85 1754.19,1796.85" fill="none" stroke="#FF0000" stroke-width="18.2" stroke-linejoin="round"/>
<polyline points="1413.6,1911.3 1527.13,1911.3 1640.66,1751.07 1754.19,1682.4" fill="none" stroke="#0000FF" stroke-width="18.2" stroke-linejoin="round"/>
<circle cx="1413.6" cy="1903.67" r="17.2" fill="#FF0000"/>
<circle cx="1527.13" cy="1911.3" r="17.2" fill="#FF0000"/>
<circle cx="1640.66" cy="1796.85" r="17.2" fill="#FF0000"/>
<circle cx="1754.19" cy="1796.85" r="17.2" fill="#FF0000"/>
<circle cx="1413.6" cy="1911.3" r="17.2" fill="#0000FF"/>
<circle cx="1527.13" cy="1911.3" r="17.2" fill="#0000FF"/>
<circle cx="1640.66" cy="1751.07" r="17.2" fill="#0000FF"/>
<circle cx="1754.19" cy="1682.4" r="17.2" fill="#0000FF"/>
</g>
<rect x="1344.5" y="1599.5" width="473" height="69.7" fill="#fff" stroke="#000" stroke-width="5"/>
<text x="1580.9" y="1648.3" style="font-family:'Liberation Sans',Arial,Helvetica,sans-serif;font-size:39px" fill="#1A1A1A" text-anchor="middle" >MCM3</text>
<line x1="1342.2" y1="1671.1" x2="1342.2" y2="1922.3" stroke="#000" stroke-width="4.5" />
<line x1="1345.5" y1="1923.4" x2="1822" y2="1923.4" stroke="#000" stroke-width="4.6" />
<line x1="1329.2" y1="1911.3" x2="1342.2" y2="1911.3" stroke="#333333" stroke-width="4.3" />
<text x="1320.9" y="1925.7" style="font-family:'Liberation Sans',Arial,Helvetica,sans-serif;font-size:40px" fill="#4D4D4D" text-anchor="end" >0</text>
<line x1="1329.2" y1="1835" x2="1342.2" y2="1835" stroke="#333333" stroke-width="4.3" />
<text x="1320.9" y="1849.4" style="font-family:'Liberation Sans',Arial,Helvetica,sans-serif;font-size:40px" fill="#4D4D4D" text-anchor="end" >10</text>
<line x1="1329.2" y1="1758.7" x2="1342.2" y2="1758.7" stroke="#333333" stroke-width="4.3" />
<text x="1320.9" y="1773.1" style="font-family:'Liberation Sans',Arial,Helvetica,sans-serif;font-size:40px" fill="#4D4D4D" text-anchor="end" >20</text>
<line x1="1329.2" y1="1682.4" x2="1342.2" y2="1682.4" stroke="#333333" stroke-width="4.3" />
<text x="1320.9" y="1696.8" style="font-family:'Liberation Sans',Arial,Helvetica,sans-serif;font-size:40px" fill="#4D4D4D" text-anchor="end" >30</text>
<line x1="1413.6" y1="1923.4" x2="1413.6" y2="1934.9" stroke="#333333" stroke-width="4.8" />
<text x="1413.6" y="1972.7" style="font-family:'Liberation Sans',Arial,Helvetica,sans-serif;font-size:40px" fill="#4D4D4D" text-anchor="middle" >t0</text>
<line x1="1527.13" y1="1923.4" x2="1527.13" y2="1934.9" stroke="#333333" stroke-width="4.8" />
<text x="1527.13" y="1972.7" style="font-family:'Liberation Sans',Arial,Helvetica,sans-serif;font-size:40px" fill="#4D4D4D" text-anchor="middle" >t6</text>
<line x1="1640.66" y1="1923.4" x2="1640.66" y2="1934.9" stroke="#333333" stroke-width="4.8" />
<text x="1640.66" y="1972.7" style="font-family:'Liberation Sans',Arial,Helvetica,sans-serif;font-size:40px" fill="#4D4D4D" text-anchor="middle" >t8</text>
<line x1="1754.19" y1="1923.4" x2="1754.19" y2="1934.9" stroke="#333333" stroke-width="4.8" />
<text x="1754.19" y="1972.7" style="font-family:'Liberation Sans',Arial,Helvetica,sans-serif;font-size:40px" fill="#4D4D4D" text-anchor="middle" >t10</text>
<clipPath id="cCDKA1"><rect x="199.4" y="2122.7" width="485.6" height="258"/></clipPath>
<g clip-path="url(#cCDKA1)">
<polyline points="261.4,2370.7 379.03,2276.1 496.66,2134.2 614.29,2228.8" fill="none" stroke="#FF0000" stroke-width="19" stroke-linejoin="round"/>
<polyline points="261.4,2370.7 379.03,2276.1 496.66,2134.2 614.29,2134.2" fill="none" stroke="#0000FF" stroke-width="19" stroke-linejoin="round"/>
<circle cx="261.4" cy="2370.7" r="17.8" fill="#FF0000"/>
<circle cx="379.03" cy="2276.1" r="17.8" fill="#FF0000"/>
<circle cx="496.66" cy="2134.2" r="17.8" fill="#FF0000"/>
<circle cx="614.29" cy="2228.8" r="17.8" fill="#FF0000"/>
<circle cx="261.4" cy="2370.7" r="17.8" fill="#0000FF"/>
<circle cx="379.03" cy="2276.1" r="17.8" fill="#0000FF"/>
<circle cx="496.66" cy="2134.2" r="17.8" fill="#0000FF"/>
<circle cx="614.29" cy="2134.2" r="17.8" fill="#0000FF"/>
</g>
<rect x="192.6" y="2047.6" width="489.9" height="72.6" fill="#fff" stroke="#000" stroke-width="5"/>
<text x="436" y="2099" style="font-family:'Liberation Sans',Arial,Helvetica,sans-serif;font-size:40.3px" fill="#1A1A1A" text-anchor="middle" >CDKA1</text>
<line x1="196.8" y1="2124.2" x2="196.8" y2="2385" stroke="#000" stroke-width="4.5" />
<line x1="190.7" y1="2383.2" x2="684.6" y2="2383.2" stroke="#000" stroke-width="4.6" />
<line x1="183.8" y1="2373.6" x2="196.8" y2="2373.6" stroke="#333333" stroke-width="4.3" />
<text x="174.5" y="2388.36" style="font-family:'Liberation Sans',Arial,Helvetica,sans-serif;font-size:41px" fill="#4D4D4D" text-anchor="end" >0</text>
<line x1="183.8" y1="2326.2" x2="196.8" y2="2326.2" stroke="#333333" stroke-width="4.3" />
<text x="174.5" y="2340.96" style="font-family:'Liberation Sans',Arial,Helvetica,sans-serif;font-size:41px" fill="#4D4D4D" text-anchor="end" >1</text>
<line x1="183.8" y1="2278.8" x2="196.8" y2="2278.8" stroke="#333333" stroke-width="4.3" />
<text x="174.5" y="2293.56" style="font-family:'Liberation Sans',Arial,Helvetica,sans-serif;font-size:41px" fill="#4D4D4D" text-anchor="end" >2</text>
<line x1="183.8" y1="2231.4" x2="196.8" y2="2231.4" stroke="#333333" stroke-width="4.3" />
<text x="174.5" y="2246.16" style="font-family:'Liberation Sans',Arial,Helvetica,sans-serif;font-size:41px" fill="#4D4D4D" text-anchor="end" >3</text>
<line x1="183.8" y1="2184" x2="196.8" y2="2184" stroke="#333333" stroke-width="4.3" />
<text x="174.5" y="2198.76" style="font-family:'Liberation Sans',Arial,Helvetica,sans-serif;font-size:41px" fill="#4D4D4D" text-anchor="end" >4</text>
<line x1="183.8" y1="2136.6" x2="196.8" y2="2136.6" stroke="#333333" stroke-width="4.3" />
<text x="174.5" y="2151.36" style="font-family:'Liberation Sans',Arial,Helvetica,sans-serif;font-size:41px" fill="#4D4D4D" text-anchor="end" >5</text>
<line x1="261.4" y1="2383.2" x2="261.4" y2="2394.7" stroke="#333333" stroke-width="4.8" />
<text x="261.4" y="2434.3" style="font-family:'Liberation Sans',Arial,Helvetica,sans-serif;font-size:41px" fill="#4D4D4D" text-anchor="middle" >t0</text>
<line x1="379.03" y1="2383.2" x2="379.03" y2="2394.7" stroke="#333333" stroke-width="4.8" />
<text x="379.03" y="2434.3" style="font-family:'Liberation Sans',Arial,Helvetica,sans-serif;font-size:41px" fill="#4D4D4D" text-anchor="middle" >t6</text>
<line x1="496.66" y1="2383.2" x2="496.66" y2="2394.7" stroke="#333333" stroke-width="4.8" />
<text x="496.66" y="2434.3" style="font-family:'Liberation Sans',Arial,Helvetica,sans-serif;font-size:41px" fill="#4D4D4D" text-anchor="middle" >t8</text>
<line x1="614.29" y1="2383.2" x2="614.29" y2="2394.7" stroke="#333333" stroke-width="4.8" />
<text x="614.29" y="2434.3" style="font-family:'Liberation Sans',Arial,Helvetica,sans-serif;font-size:41px" fill="#4D4D4D" text-anchor="middle" >t10</text>
<clipPath id="cCYCB1"><rect x="780" y="2130.7" width="474.9" height="249.1"/></clipPath>
<g clip-path="url(#cCYCB1)">
<polyline points="846,2369.3 959.5,2369.3 1073,2141.6 1186.5,2166.9" fill="none" stroke="#FF0000" stroke-width="18.2" stroke-linejoin="round"/>
<polyline points="846,2369.3 959.5,2369.3 1073,2344 1186.5,2141.6" fill="none" stroke="#0000FF" stroke-width="18.2" stroke-linejoin="round"/>
<circle cx="846" cy="2369.3" r="16.6" fill="#FF0000"/>
<circle cx="959.5" cy="2369.3" r="16.6" fill="#FF0000"/>
<circle cx="1073" cy="2141.6" r="16.6" fill="#FF0000"/>
<circle cx="1186.5" cy="2166.9" r="16.6" fill="#FF0000"/>
<circle cx="846" cy="2369.3" r="16.6" fill="#0000FF"/>
<circle cx="959.5" cy="2369.3" r="16.6" fill="#0000FF"/>
<circle cx="1073" cy="2344" r="16.6" fill="#0000FF"/>
<circle cx="1186.5" cy="2141.6" r="16.6" fill="#0000FF"/>
</g>
<rect x="779.6" y="2058.6" width="472.8" height="69.6" fill="#fff" stroke="#000" stroke-width="5"/>
<text x="1013.7" y="2106.9" style="font-family:'Liberation Sans',Arial,Helvetica,sans-serif;font-size:38.4px" fill="#1A1A1A" text-anchor="middle" >CYCB1</text>
<line x1="777.7" y1="2130.1" x2="777.7" y2="2381.5" stroke="#000" stroke-width="4.5" />
<line x1="778.3" y1="2381.5" x2="1254.6" y2="2381.5" stroke="#000" stroke-width="4.6" />
<line x1="764.7" y1="2370.5" x2="777.7" y2="2370.5" stroke="#333333" stroke-width="4.3" />
<text x="756.4" y="2384.9" style="font-family:'Liberation Sans',Arial,Helvetica,sans-serif;font-size:40px" fill="#4D4D4D" text-anchor="end" >0.0</text>
<line x1="764.7" y1="2306.9" x2="777.7" y2="2306.9" stroke="#333333" stroke-width="4.3" />
<text x="756.4" y="2321.3" style="font-family:'Liberation Sans',Arial,Helvetica,sans-serif;font-size:40px" fill="#4D4D4D" text-anchor="end" >2.5</text>
<line x1="764.7" y1="2243.3" x2="777.7" y2="2243.3" stroke="#333333" stroke-width="4.3" />
<text x="756.4" y="2257.7" style="font-family:'Liberation Sans',Arial,Helvetica,sans-serif;font-size:40px" fill="#4D4D4D" text-anchor="end" >5.0</text>
<line x1="764.7" y1="2179.7" x2="777.7" y2="2179.7" stroke="#333333" stroke-width="4.3" />
<text x="756.4" y="2194.1" style="font-family:'Liberation Sans',Arial,Helvetica,sans-serif;font-size:40px" fill="#4D4D4D" text-anchor="end" >7.5</text>
<line x1="846" y1="2381.5" x2="846" y2="2393" stroke="#333333" stroke-width="4.8" />
<text x="846" y="2431.4" style="font-family:'Liberation Sans',Arial,Helvetica,sans-serif;font-size:40px" fill="#4D4D4D" text-anchor="middle" >t0</text>
<line x1="959.5" y1="2381.5" x2="959.5" y2="2393" stroke="#333333" stroke-width="4.8" />
<text x="959.5" y="2431.4" style="font-family:'Liberation Sans',Arial,Helvetica,sans-serif;font-size:40px" fill="#4D4D4D" text-anchor="middle" >t6</text>
<line x1="1073" y1="2381.5" x2="1073" y2="2393" stroke="#333333" stroke-width="4.8" />
<text x="1073" y="2431.4" style="font-family:'Liberation Sans',Arial,Helvetica,sans-serif;font-size:40px" fill="#4D4D4D" text-anchor="middle" >t8</text>
<line x1="1186.5" y1="2381.5" x2="1186.5" y2="2393" stroke="#333333" stroke-width="4.8" />
<text x="1186.5" y="2431.4" style="font-family:'Liberation Sans',Arial,Helvetica,sans-serif;font-size:40px" fill="#4D4D4D" text-anchor="middle" >t10</text>
<clipPath id="cCDKB1"><rect x="1340.7" y="2135.6" width="475.2" height="249.3"/></clipPath>
<g clip-path="url(#cCDKB1)">
<polyline points="1406.9,2375.4 1520.43,2375.4 1633.96,2147 1747.49,2318.3" fill="none" stroke="#FF0000" stroke-width="18.2" stroke-linejoin="round"/>
<polyline points="1406.9,2375.4 1520.43,2375.4 1633.96,2318.3 1747.49,2204.1" fill="none" stroke="#0000FF" stroke-width="18.2" stroke-linejoin="round"/>
<circle cx="1406.9" cy="2375.4" r="16.8" fill="#FF0000"/>
<circle cx="1520.43" cy="2375.4" r="16.8" fill="#FF0000"/>
<circle cx="1633.96" cy="2147" r="16.8" fill="#FF0000"/>
<circle cx="1747.49" cy="2318.3" r="16.8" fill="#FF0000"/>
<circle cx="1406.9" cy="2375.4" r="16.8" fill="#0000FF"/>
<circle cx="1520.43" cy="2375.4" r="16.8" fill="#0000FF"/>
<circle cx="1633.96" cy="2318.3" r="16.8" fill="#0000FF"/>
<circle cx="1747.49" cy="2204.1" r="16.8" fill="#0000FF"/>
</g>
<rect x="1340.5" y="2063.7" width="472.9" height="69.4" fill="#fff" stroke="#000" stroke-width="5"/>
<text x="1575.4" y="2112.8" style="font-family:'Liberation Sans',Arial,Helvetica,sans-serif;font-size:38.7px" fill="#1A1A1A" text-anchor="middle" >CDKB1</text>
<line x1="1338.6" y1="2135.1" x2="1338.6" y2="2386.6" stroke="#000" stroke-width="4.5" />
<line x1="1339" y1="2387.2" x2="1815.5" y2="2387.2" stroke="#000" stroke-width="4.6" />
<line x1="1325.6" y1="2375.4" x2="1338.6" y2="2375.4" stroke="#333333" stroke-width="4.3" />
<text x="1317" y="2389.8" style="font-family:'Liberation Sans',Arial,Helvetica,sans-serif;font-size:40px" fill="#4D4D4D" text-anchor="end" >0</text>
<line x1="1325.6" y1="2318.3" x2="1338.6" y2="2318.3" stroke="#333333" stroke-width="4.3" />
<text x="1317" y="2332.7" style="font-family:'Liberation Sans',Arial,Helvetica,sans-serif;font-size:40px" fill="#4D4D4D" text-anchor="end" >1</text>
<line x1="1325.6" y1="2261.2" x2="1338.6" y2="2261.2" stroke="#333333" stroke-width="4.3" />
<text x="1317" y="2275.6" style="font-family:'Liberation Sans',Arial,Helvetica,sans-serif;font-size:40px" fill="#4D4D4D" text-anchor="end" >2</text>
<line x1="1325.6" y1="2204.1" x2="1338.6" y2="2204.1" stroke="#333333" stroke-width="4.3" />
<text x="1317" y="2218.5" style="font-family:'Liberation Sans',Arial,Helvetica,sans-serif;font-size:40px" fill="#4D4D4D" text-anchor="end" >3</text>
<line x1="1325.6" y1="2147" x2="1338.6" y2="2147" stroke="#333333" stroke-width="4.3" />
<text x="1317" y="2161.4" style="font-family:'Liberation Sans',Arial,Helvetica,sans-serif;font-size:40px" fill="#4D4D4D" text-anchor="end" >4</text>
<line x1="1406.9" y1="2387.2" x2="1406.9" y2="2398.7" stroke="#333333" stroke-width="4.8" />
<text x="1406.9" y="2436.5" style="font-family:'Liberation Sans',Arial,Helvetica,sans-serif;font-size:40px" fill="#4D4D4D" text-anchor="middle" >t0</text>
<line x1="1520.43" y1="2387.2" x2="1520.43" y2="2398.7" stroke="#333333" stroke-width="4.8" />
<text x="1520.43" y="2436.5" style="font-family:'Liberation Sans',Arial,Helvetica,sans-serif;font-size:40px" fill="#4D4D4D" text-anchor="middle" >t6</text>
<line x1="1633.96" y1="2387.2" x2="1633.96" y2="2398.7" stroke="#333333" stroke-width="4.8" />
<text x="1633.96" y="2436.5" style="font-family:'Liberation Sans',Arial,Helvetica,sans-serif;font-size:40px" fill="#4D4D4D" text-anchor="middle" >t8</text>
<line x1="1747.49" y1="2387.2" x2="1747.49" y2="2398.7" stroke="#333333" stroke-width="4.8" />
<text x="1747.49" y="2436.5" style="font-family:'Liberation Sans',Arial,Helvetica,sans-serif;font-size:40px" fill="#4D4D4D" text-anchor="middle" >t10</text>
</svg></body></html>
